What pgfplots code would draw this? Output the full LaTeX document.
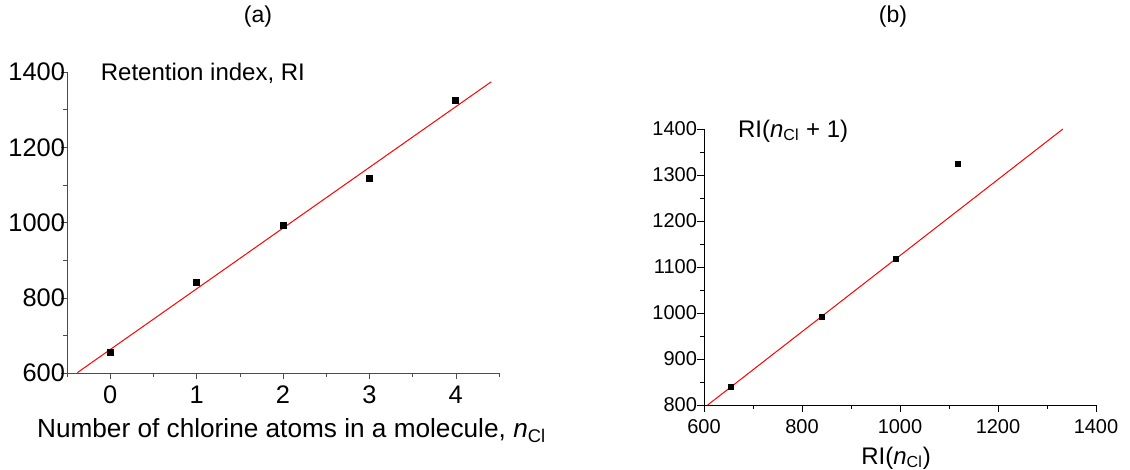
\documentclass[border=0pt]{standalone}
\usepackage{fontspec}
\setmainfont{Liberation Sans}
\usepackage{pgfplots}
\pgfplotsset{compat=1.18}
\begin{document}
\begin{tikzpicture}[x=1pt,y=1pt]
\useasboundingbox (0,0) rectangle (565,235);
\node at (129,226.5) {\fontsize{11.5}{13}\selectfont (a)};
\node at (446.5,226.5) {\fontsize{11.5}{13}\selectfont (b)};
\begin{axis}[at={(33.5pt,48.5pt)}, anchor=south west,
  scale only axis, width=216pt, height=150.5pt,
  xmin=-0.5, xmax=4.5, ymin=600, ymax=1400,
  clip=false,
  axis x line*=bottom, axis y line*=left,
  axis line style={-, black!70},
  xtick={0,1,2,3,4}, minor xtick={-0.5,0.5,1.5,2.5,3.5,4.5},
  ytick={600,800,1000,1200,1400}, minor ytick={700,900,1100,1300},
  tick align=outside, major tick length=3pt, minor tick length=2pt,
  tick style={black!70},
  /pgf/number format/assume math mode=true,
  /pgf/number format/1000 sep={},
  ticklabel style={font=\fontsize{12.7}{14}\selectfont},
  yticklabel style={xshift=5.5pt},
  xlabel={Number of chlorine atoms in a molecule, \textit{n}\textsubscript{Cl}},
  xlabel style={at={(axis description cs:0.52,-0.19)}, anchor=center, font=\fontsize{13.1}{15}\selectfont},
]
\addplot[only marks, mark=square*, mark size=1.5pt, black] coordinates {(0,655)(1,840)(2,991)(3,1118)(4,1324)};
\addplot[red, line width=0.5pt] coordinates {(-0.38,601)(4.41,1374)};
\node[anchor=west, font=\fontsize{12}{14}\selectfont] at (axis description cs:0.062,0.997) {Retention index, RI};
\end{axis}
\begin{axis}[at={(352pt,32.5pt)}, anchor=south west,
  scale only axis, width=196pt, height=138pt,
  xmin=600, xmax=1400, ymin=800, ymax=1400,
  clip=false,
  axis x line*=bottom, axis y line*=left,
  axis line style={-, black},
  xtick={600,800,1000,1200,1400}, minor xtick={700,900,1100,1300},
  ytick={800,900,1000,1100,1200,1300,1400}, minor ytick={850,950,1050,1150,1250,1350},
  tick align=outside, major tick length=3.5pt, minor tick length=2pt,
  tick style={black},
  /pgf/number format/assume math mode=true,
  /pgf/number format/1000 sep={},
  ticklabel style={font=\fontsize{10}{12}\selectfont},
  yticklabel style={xshift=3.5pt},
  xlabel={RI(\textit{n}\textsubscript{Cl})},
  xlabel style={at={(axis description cs:0.49,-0.192)}, anchor=center, font=\fontsize{12}{14}\selectfont},
]
\addplot[only marks, mark=square*, mark size=1.3pt, black] coordinates {(655,840)(840,991)(991,1118)(1118,1324)};
\addplot[red, line width=0.5pt] coordinates {(607.5,800)(1332.5,1400)};
\node[anchor=west, font=\fontsize{12}{14}\selectfont] at (axis description cs:0.069,0.993) {RI(\textit{n}\textsubscript{Cl} + 1)};
\end{axis}
\end{tikzpicture}
\end{document}
